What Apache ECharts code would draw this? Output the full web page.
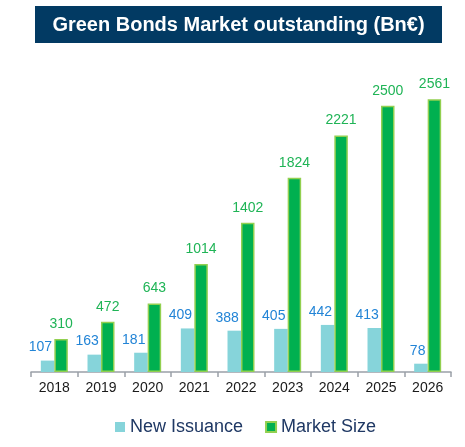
<!DOCTYPE html>
<html>
<head>
<meta charset="utf-8">
<style>
  html, body { margin: 0; padding: 0; background: #ffffff; }
  #chart { width: 465px; height: 447px; }
</style>
<script src="https://cdn.jsdelivr.net/npm/echarts@6/dist/echarts.min.js"></script>
</head>
<body>
<div id="chart"></div>
<script>
// Green bond market, in billions of euros
const years = ['2018', '2019', '2020', '2021', '2022', '2023', '2024', '2025', '2026'];
const newIssuance = [107, 163, 181, 409, 388, 405, 442, 413, 78];
const marketSize = [310, 472, 643, 1014, 1402, 1824, 2221, 2500, 2561];

const chart = echarts.init(document.getElementById('chart'), null, { renderer: 'canvas' });

const font = '"Liberation Sans", Arial, sans-serif';

chart.setOption({
  animation: false,
  textStyle: { fontFamily: font },
  graphic: [
    {
      type: 'rect',
      shape: { x: 35, y: 6, width: 407, height: 37 },
      style: { fill: '#023a63' },
      z: 10
    },
    {
      type: 'text',
      x: 238.5,
      y: 25,
      style: {
        text: 'Green Bonds Market outstanding (Bn€)',
        fill: '#ffffff',
        font: 'bold 20px ' + font,
        align: 'center',
        verticalAlign: 'middle'
      },
      z: 11
    }
  ],
  legend: {
    left: 115,
    top: 418,
    padding: 0,
    icon: 'rect',
    itemWidth: 10,
    itemHeight: 10,
    itemGap: 22,
    textStyle: { fontSize: 18, color: '#1f3864', fontFamily: font },
    data: ['New Issuance', 'Market Size']
  },
  grid: { left: 31, right: 14, top: 52.5, bottom: 75 },
  xAxis: {
    type: 'category',
    data: years,
    axisLine: { lineStyle: { color: '#9aa0a8', width: 1.5 } },
    axisTick: { show: true, length: 5, lineStyle: { color: '#9aa0a8', width: 1.5 } },
    axisLabel: { color: '#1a1a1a', fontSize: 14, margin: 9, fontFamily: font }
  },
  yAxis: {
    type: 'value',
    min: 0,
    max: 3000,
    show: false,
    splitLine: { show: false }
  },
  series: [
    {
      name: 'New Issuance',
      type: 'bar',
      data: newIssuance,
      barWidth: 13.5,
      barGap: '0%',
      itemStyle: { color: '#86d4da' },
      label: {
        show: true,
        position: 'top',
        distance: 6,
        align: 'right',
        offset: [4.5, 0],
        color: '#2284d6',
        fontSize: 14,
        fontFamily: font
      }
    },
    {
      name: 'Market Size',
      type: 'bar',
      data: marketSize,
      barWidth: 13.5,
      barGap: '0%',
      itemStyle: { color: '#00b050', borderColor: '#92d050', borderWidth: 1.5 },
      label: {
        show: true,
        position: 'top',
        distance: 8,
        color: '#1fb456',
        fontSize: 14,
        fontFamily: font
      }
    }
  ]
});
</script>
</body>
</html>
